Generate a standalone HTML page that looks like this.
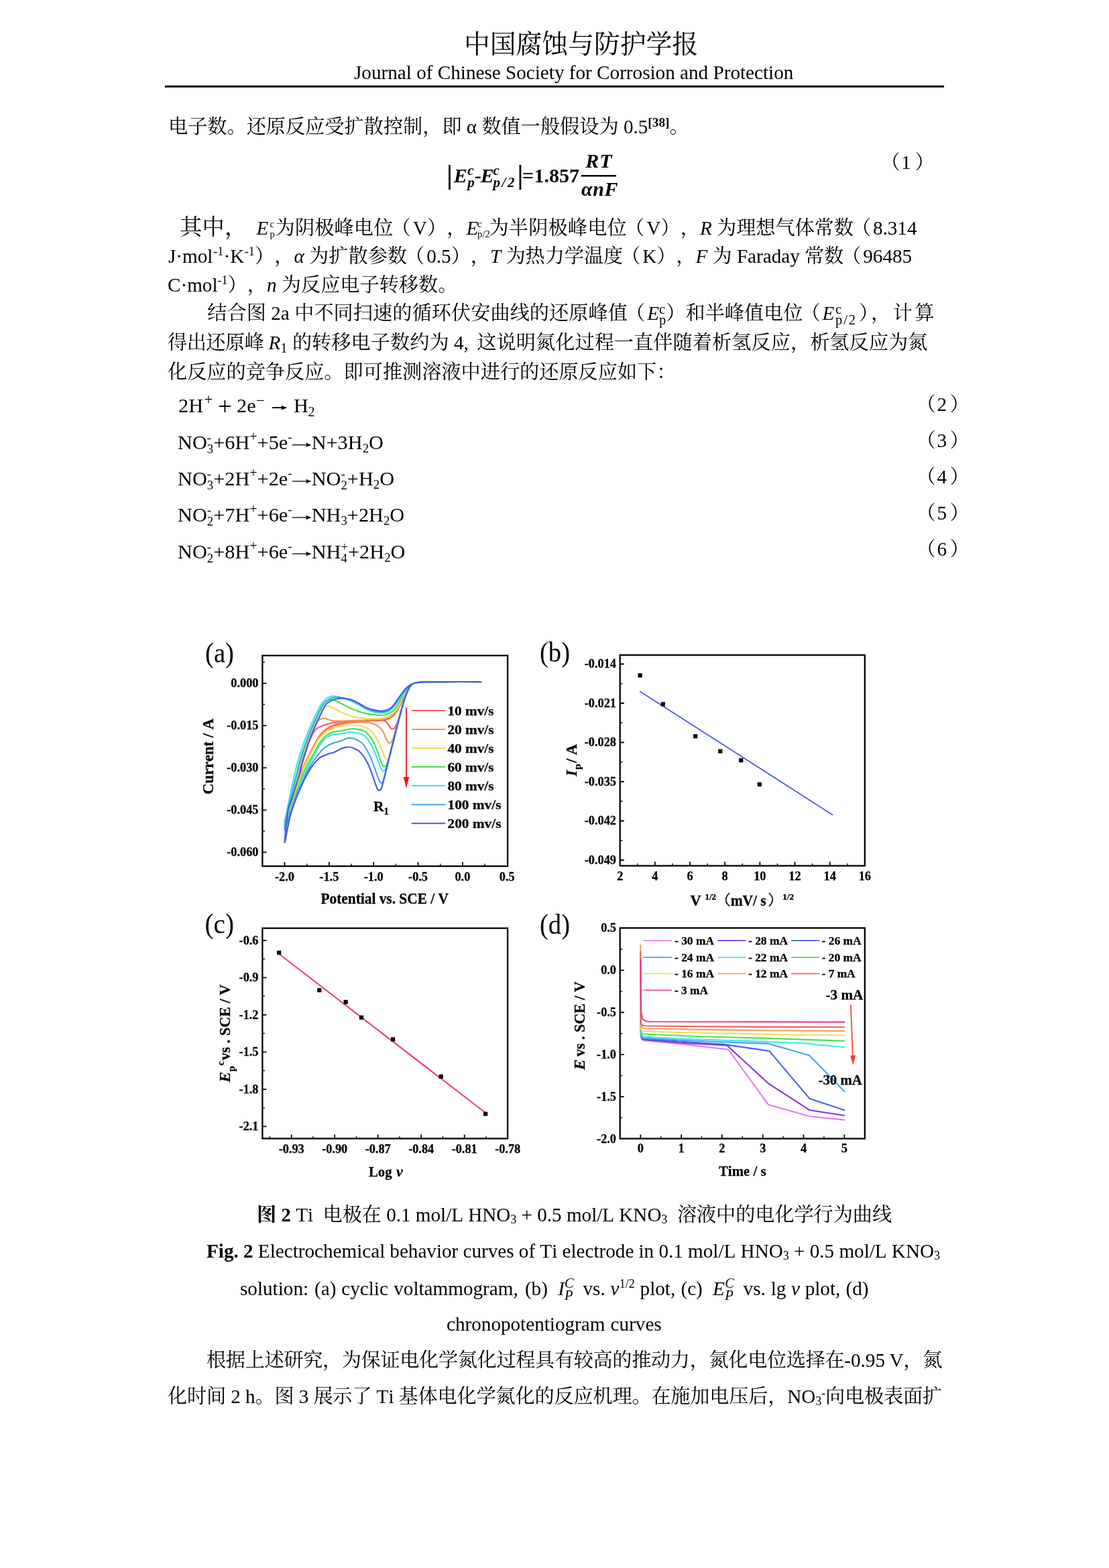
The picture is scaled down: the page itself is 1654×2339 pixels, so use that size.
<!DOCTYPE html>
<html><head><meta charset="utf-8"><title>page</title>
<style>
html,body{margin:0;padding:0;background:#fff}
svg{display:block;will-change:transform}
text{font-family:"Liberation Serif","Noto Serif CJK SC",serif;font-kerning:none;fill:#000;white-space:pre}
.fg text{stroke:#000;stroke-width:0.3px} .fg text.r{stroke:none}
.i{font-style:italic} .b{font-weight:bold} .bi{font-weight:bold;font-style:italic}
</style></head><body>
<svg width="1654" height="2339" viewBox="0 0 1654 2339">
<g fill="#000">
<text x="692" y="79" font-size="38.9" textLength="349.1">中国腐蚀与防护学报</text>
<text x="528" y="118" font-size="29.17">Journal</text>
<text x="621.16" y="118" font-size="29.17">of</text>
<text x="652.76" y="118" font-size="29.17">Chinese</text>
<text x="754.02" y="118" font-size="29.17">Society</text>
<text x="848.81" y="118" font-size="29.17">for</text>
<text x="890.12" y="118" font-size="29.17">Corrosion</text>
<text x="1014.09" y="118" font-size="29.17">and</text>
<text x="1063.5" y="118" font-size="29.17">Protection</text>
<rect x="246" y="127.5" width="1162" height="3" fill="#000"/>
<text x="251" y="199.3" font-size="29.17" textLength="437.55">电子数。还原反应受扩散控制，即</text>
<text x="695.84" y="199.3" font-size="29.17">α</text>
<text x="718.42" y="199.3" font-size="29.17" textLength="204.19">数值一般假设为</text>
<text x="929.9" y="199.3" font-size="29.17">0.5</text>
<text x="966.36" y="188.8" font-size="19.25" class="b">[38]</text>
<text x="998.44" y="199.3" font-size="29.17">。</text>
<text x="666" y="273.6" font-size="40.5" class="b">|</text>
<text x="676.8" y="271.6" font-size="30" class="bi">E</text>
<text x="697.26" y="260.6" font-size="21" class="bi">c</text>
<text x="697.26" y="278.6" font-size="21" class="bi">p</text>
<text x="708" y="271.6" font-size="30" class="bi">-</text>
<text x="716.8" y="271.6" font-size="30" class="bi">E</text>
<text x="735.5" y="260.6" font-size="21" class="bi">c</text>
<text x="735.5" y="278.6" font-size="21" class="bi" letter-spacing="2.6">p/2</text>
<text x="771.5" y="273.6" font-size="40.5" class="b">|</text>
<text x="779" y="271.6" font-size="30" class="b">=</text>
<text x="796.5" y="271.6" font-size="30" class="b">1.857</text>
<text x="893.5" y="249.6" font-size="30" class="bi" text-anchor="middle" letter-spacing="1">RT</text>
<rect x="866.6" y="261" width="52.4" height="2.5"/>
<text x="894.5" y="291.5" font-size="30" class="bi" text-anchor="middle" letter-spacing="0.5">αnF</text>
<text x="1313.58" y="252.3" font-size="29.17">（</text>
<text x="1344" y="252.3" font-size="29.17">1</text>
<text x="1364.5" y="252.3" font-size="29.17">）</text>
<text x="268" y="350" font-size="33.35" textLength="100.31">其中，</text>
<text x="382.5" y="350" font-size="29.17" class="i">E</text>
<text x="402.44" y="338.92" font-size="14.59">c</text>
<text x="402.44" y="353.5" font-size="14.59">p</text>
<text x="410.6" y="350" font-size="29.17" textLength="175.69">为阴极峰电位</text>
<text x="583.51" y="350" font-size="29.17">（</text>
<text x="615.73" y="350" font-size="29.17">V</text>
<text x="636.89" y="350" font-size="29.17" textLength="58.48">），</text>
<text x="695.5" y="350" font-size="29.17" class="i">E</text>
<text x="712.12" y="338.92" font-size="14.59">c</text>
<text x="712.12" y="353.5" font-size="14.59">p/2</text>
<text x="729.5" y="350" font-size="29.17" textLength="205.16">为半阴极峰电位</text>
<text x="931.91" y="350" font-size="29.17">（</text>
<text x="964.15" y="350" font-size="29.17">V</text>
<text x="985.34" y="350" font-size="29.17" textLength="58.5">），</text>
<text x="1044" y="350" font-size="29.17" class="i">R</text>
<text x="1069.06" y="350" font-size="29.17" textLength="203.81">为理想气体常数</text>
<text x="1269.89" y="350" font-size="29.17">（</text>
<text x="1301.91" y="350" font-size="29.17">8.314</text>
<text x="251" y="391.8" font-size="29.17">J·mol</text>
<text x="318.3" y="381.3" font-size="18.09">-1</text>
<text x="333.56" y="391.8" font-size="29.17">·K</text>
<text x="364.74" y="381.3" font-size="18.09">-1</text>
<text x="380" y="391.8" font-size="29.17" textLength="58.42">），</text>
<text x="438.5" y="391.8" font-size="29.17" class="i">α</text>
<text x="461.11" y="391.8" font-size="29.17" textLength="145.88">为扩散参数</text>
<text x="604.08" y="391.8" font-size="29.17">（</text>
<text x="636.17" y="391.8" font-size="29.17">0.5</text>
<text x="672.65" y="391.8" font-size="29.17" textLength="58.34">），</text>
<text x="731" y="391.8" font-size="29.17" class="i">T</text>
<text x="754.46" y="391.8" font-size="29.17" textLength="174.71">为热力学温度</text>
<text x="926.19" y="391.8" font-size="29.17">（</text>
<text x="958.21" y="391.8" font-size="29.17">K</text>
<text x="979.23" y="391.8" font-size="29.17" textLength="58.28">），</text>
<text x="1037.45" y="391.8" font-size="29.17" class="i">F</text>
<text x="1062.51" y="391.8" font-size="29.17">为</text>
<text x="1098.89" y="391.8" font-size="29.17">Faraday</text>
<text x="1199.91" y="391.8" font-size="29.17" textLength="58.28">常数</text>
<text x="1255.21" y="391.8" font-size="29.17">（</text>
<text x="1287.23" y="391.8" font-size="29.17">96485</text>
<text x="250" y="434.8" font-size="29.17">C·mol</text>
<text x="324.55" y="424.3" font-size="18.09">-1</text>
<text x="339.61" y="434.8" font-size="29.17" textLength="58.34">），</text>
<text x="397.95" y="434.8" font-size="29.17" class="i">n</text>
<text x="419.83" y="434.8" font-size="29.17" textLength="262.53">为反应电子转移数。</text>
<text x="309.3" y="477" font-size="29.17" textLength="87.62">结合图</text>
<text x="404.28" y="477" font-size="29.17">2a</text>
<text x="439.17" y="477" font-size="29.17" textLength="496.75">中不同扫速的循环伏安曲线的还原峰值</text>
<text x="933.06" y="477" font-size="29.17">（</text>
<text x="965.2" y="477" font-size="29.17" class="i">E</text>
<text x="983.05" y="468" font-size="20.42">c</text>
<text x="983.05" y="484" font-size="20.42">p</text>
<text x="993.28" y="477" font-size="29.17">）</text>
<text x="1022.5" y="477" font-size="29.17" textLength="174.88">和半峰值电位</text>
<text x="1194.44" y="477" font-size="29.17">（</text>
<text x="1226.5" y="477" font-size="29.17" class="i">E</text>
<text x="1245.96" y="468" font-size="20.42">c</text>
<text x="1245.96" y="484" font-size="20.42" letter-spacing="2">p/2</text>
<text x="1281" y="477" font-size="29.17" textLength="112.42">），计算</text>
<text x="250" y="521" font-size="29.17" textLength="143.84">得出还原峰</text>
<text x="400.5" y="521" font-size="29.17" class="i">R</text>
<text x="418.35" y="526" font-size="20.42">1</text>
<text x="435.89" y="521" font-size="29.17" textLength="233.77">的转移电子数约为</text>
<text x="677.02" y="521" font-size="29.17">4,</text>
<text x="711.26" y="521" font-size="29.17" textLength="672.18">这说明氮化过程一直伴随着析氢反应，析氢反应为氮</text>
<text x="250" y="565.3" font-size="29.17" textLength="758.42">化反应的竞争反应。即可推测溶液中进行的还原反应如下：</text>
<text x="266" y="614.5" font-size="30.3">2H</text>
<text x="304.5" y="602.5" font-size="22.73">+</text>
<text x="325" y="619" font-size="36.97">+</text>
<text x="353" y="614.5" font-size="30.3">2e</text>
<text x="382" y="604.5" font-size="22.73">−</text>
<path d="M406 608.14H427" stroke="#000" stroke-width="1.9" fill="none"/><path d="M428 608.14l-9 -3.72q2.7 3.72 0 7.44z"/>
<text x="438" y="614.5" font-size="30.3">H</text>
<text x="459.5" y="620.5" font-size="20">2</text>
<text x="265" y="670" font-size="30.3">NO</text>
<text x="308.76" y="659" font-size="18.79">-</text>
<text x="308.76" y="676" font-size="18.79">3</text>
<text x="318.16" y="670" font-size="30.3">+6H</text>
<text x="372.28" y="658" font-size="20">+</text>
<text x="383.55" y="670" font-size="30.3">+5e</text>
<text x="429.24" y="658" font-size="18.79">-</text>
<path d="M436 663.64H463.17" stroke="#000" stroke-width="1.3" fill="none"/><path d="M464.17 663.64l-8.25 -3.41q2.48 3.41 0 6.82z"/>
<text x="464.67" y="670" font-size="30.3">N+3H</text>
<text x="540.67" y="675" font-size="18.79">2</text>
<text x="550.06" y="670" font-size="30.3">O</text>
<text x="265" y="724.3" font-size="30.3">NO</text>
<text x="308.76" y="713.3" font-size="18.79">-</text>
<text x="308.76" y="730.3" font-size="18.79">3</text>
<text x="318.16" y="724.3" font-size="30.3">+2H</text>
<text x="372.28" y="712.3" font-size="20">+</text>
<text x="383.55" y="724.3" font-size="30.3">+2e</text>
<text x="429.24" y="712.3" font-size="18.79">-</text>
<path d="M436 717.94H463.17" stroke="#000" stroke-width="1.3" fill="none"/><path d="M464.17 717.94l-8.25 -3.41q2.48 3.41 0 6.82z"/>
<text x="464.67" y="724.3" font-size="30.3">NO</text>
<text x="508.43" y="713.3" font-size="18.79">-</text>
<text x="508.43" y="730.3" font-size="18.79">2</text>
<text x="517.82" y="724.3" font-size="30.3">+H</text>
<text x="556.79" y="729.3" font-size="18.79">2</text>
<text x="566.19" y="724.3" font-size="30.3">O</text>
<text x="265" y="778.3" font-size="30.3">NO</text>
<text x="308.76" y="767.3" font-size="18.79">-</text>
<text x="308.76" y="784.3" font-size="18.79">2</text>
<text x="318.16" y="778.3" font-size="30.3">+7H</text>
<text x="372.28" y="766.3" font-size="20">+</text>
<text x="383.55" y="778.3" font-size="30.3">+6e</text>
<text x="429.24" y="766.3" font-size="18.79">-</text>
<path d="M436 771.94H463.17" stroke="#000" stroke-width="1.3" fill="none"/><path d="M464.17 771.94l-8.25 -3.41q2.48 3.41 0 6.82z"/>
<text x="464.67" y="778.3" font-size="30.3">NH</text>
<text x="508.43" y="783.3" font-size="18.79">3</text>
<text x="517.82" y="778.3" font-size="30.3">+2H</text>
<text x="571.94" y="783.3" font-size="18.79">2</text>
<text x="581.34" y="778.3" font-size="30.3">O</text>
<text x="265" y="832.5" font-size="30.3">NO</text>
<text x="308.76" y="821.5" font-size="18.79">-</text>
<text x="308.76" y="838.5" font-size="18.79">2</text>
<text x="318.16" y="832.5" font-size="30.3">+8H</text>
<text x="372.28" y="820.5" font-size="20">+</text>
<text x="383.55" y="832.5" font-size="30.3">+6e</text>
<text x="429.24" y="820.5" font-size="18.79">-</text>
<path d="M436 826.14H463.17" stroke="#000" stroke-width="1.3" fill="none"/><path d="M464.17 826.14l-8.25 -3.41q2.48 3.41 0 6.82z"/>
<text x="464.67" y="832.5" font-size="30.3">NH</text>
<text x="508.43" y="821.5" font-size="18.79">+</text>
<text x="508.43" y="838.5" font-size="18.79">4</text>
<text x="519.02" y="832.5" font-size="30.3">+2H</text>
<text x="573.14" y="837.5" font-size="18.79">2</text>
<text x="582.54" y="832.5" font-size="30.3">O</text>
<text x="1366.58" y="613" font-size="29.17">（</text>
<text x="1397.5" y="613" font-size="29.17">2</text>
<text x="1416.5" y="613" font-size="29.17">）</text>
<text x="1366.58" y="667" font-size="29.17">（</text>
<text x="1397.5" y="667" font-size="29.17">3</text>
<text x="1416.5" y="667" font-size="29.17">）</text>
<text x="1366.58" y="721" font-size="29.17">（</text>
<text x="1397.5" y="721" font-size="29.17">4</text>
<text x="1416.5" y="721" font-size="29.17">）</text>
<text x="1366.58" y="775" font-size="29.17">（</text>
<text x="1397.5" y="775" font-size="29.17">5</text>
<text x="1416.5" y="775" font-size="29.17">）</text>
<text x="1366.58" y="829" font-size="29.17">（</text>
<text x="1397.5" y="829" font-size="29.17">6</text>
<text x="1416.5" y="829" font-size="29.17">）</text>
<text x="383" y="1822" font-size="29.17" class="b">图</text>
<text x="419.37" y="1822" font-size="29.17" class="b">2</text>
<text x="441.2" y="1822" font-size="29.17">Ti</text>
<text x="481.61" y="1822" font-size="29.17" textLength="87.36">电极在</text>
<text x="576.18" y="1822" font-size="29.17">0.1</text>
<text x="619.83" y="1822" font-size="29.17">mol/L</text>
<text x="698.23" y="1822" font-size="29.17">HNO</text>
<text x="761.27" y="1825" font-size="18.09">3</text>
<text x="777.57" y="1822" font-size="29.17">+</text>
<text x="801.25" y="1822" font-size="29.17">0.5</text>
<text x="844.9" y="1822" font-size="29.17">mol/L</text>
<text x="923.3" y="1822" font-size="29.17">KNO</text>
<text x="986.34" y="1825" font-size="18.09">3</text>
<text x="1009.91" y="1822" font-size="29.17" textLength="320.16">溶液中的电化学行为曲线</text>
<text x="308" y="1876" font-size="29.17" class="b">Fig.</text>
<text x="363.01" y="1876" font-size="29.17" class="b">2</text>
<text x="384.85" y="1876" font-size="29.17">Electrochemical</text>
<text x="581.33" y="1876" font-size="29.17">behavior</text>
<text x="690.51" y="1876" font-size="29.17">curves</text>
<text x="773.8" y="1876" font-size="29.17">of</text>
<text x="805.34" y="1876" font-size="29.17">Ti</text>
<text x="838.51" y="1876" font-size="29.17">electrode</text>
<text x="952.5" y="1876" font-size="29.17">in</text>
<text x="982.44" y="1876" font-size="29.17">0.1</text>
<text x="1026.12" y="1876" font-size="29.17">mol/L</text>
<text x="1104.6" y="1876" font-size="29.17">HNO</text>
<text x="1167.7" y="1879" font-size="18.09">3</text>
<text x="1184.01" y="1876" font-size="29.17">+</text>
<text x="1207.71" y="1876" font-size="29.17">0.5</text>
<text x="1251.4" y="1876" font-size="29.17">mol/L</text>
<text x="1329.87" y="1876" font-size="29.17">KNO</text>
<text x="1392.97" y="1879" font-size="18.09">3</text>
<text x="358" y="1931.5" font-size="29.17">solution:</text>
<text x="468.99" y="1931.5" font-size="29.17">(a)</text>
<text x="509.23" y="1931.5" font-size="29.17">cyclic</text>
<text x="587.28" y="1931.5" font-size="29.17">voltammogram,</text>
<text x="782.89" y="1931.5" font-size="29.17">(b)</text>
<text x="832.2" y="1931.5" font-size="29.17" class="i">I</text>
<text x="842.05" y="1920.5" font-size="20.42" class="i">C</text>
<text x="842.05" y="1938.5" font-size="20.42" class="i">P</text>
<text x="869.5" y="1931.5" font-size="29.17">vs.</text>
<text x="910.61" y="1931.5" font-size="29.17" class="i">v</text>
<text x="923.75" y="1920.5" font-size="18.09">1/2</text>
<text x="954.59" y="1931.5" font-size="29.17">plot,</text>
<text x="1015.43" y="1931.5" font-size="29.17">(c)</text>
<text x="1063.07" y="1931.5" font-size="29.17" class="i">E</text>
<text x="1081.15" y="1920.5" font-size="20.42" class="i">C</text>
<text x="1081.15" y="1938.5" font-size="20.42" class="i">P</text>
<text x="1108.6" y="1931.5" font-size="29.17">vs.</text>
<text x="1149.71" y="1931.5" font-size="29.17">lg</text>
<text x="1180.12" y="1931.5" font-size="29.17" class="i">v</text>
<text x="1200.66" y="1931.5" font-size="29.17">plot,</text>
<text x="1261.49" y="1931.5" font-size="29.17">(d)</text>
<text x="666" y="1984.5" font-size="29.17">chronopotentiogram</text>
<text x="910.62" y="1984.5" font-size="29.17">curves</text>
<text x="308" y="2039" font-size="29.17" textLength="951.62">根据上述研究，为保证电化学氮化过程具有较高的推动力，氮化电位选择在</text>
<text x="1259.28" y="2039" font-size="29.17">-0.95</text>
<text x="1326.53" y="2039" font-size="29.17">V</text>
<text x="1347.35" y="2039" font-size="29.17" textLength="57.99">，氮</text>
<text x="250" y="2093" font-size="29.17" textLength="87.14">化时间</text>
<text x="344.2" y="2093" font-size="29.17">2</text>
<text x="365.94" y="2093" font-size="29.17">h</text>
<text x="380.43" y="2093" font-size="29.17" textLength="58.15">。图</text>
<text x="445.64" y="2093" font-size="29.17">3</text>
<text x="467.38" y="2093" font-size="29.17" textLength="87.14">展示了</text>
<text x="561.58" y="2093" font-size="29.17">Ti</text>
<text x="594.58" y="2093" font-size="29.17" textLength="579.87">基体电化学氮化的反应机理。在施加电压后，</text>
<text x="1174.26" y="2093" font-size="29.17">NO</text>
<text x="1216.13" y="2096" font-size="18.09">3</text>
<text x="1225.11" y="2084" font-size="18.09">-</text>
<text x="1231.1" y="2093" font-size="29.17" textLength="174.09">向电极表面扩</text>
</g>
<g id="fig" class="fg"><g>
<path d="M717.37 1017.04C708.01 1017.04 675.5 1017 661.22 1017.04C646.93 1017.09 638.56 1017.09 631.66 1017.34C624.77 1017.59 622.67 1017.96 619.84 1018.52C617.01 1019.09 616.27 1019.51 614.67 1020.74C613.07 1021.97 611.84 1023.08 610.24 1025.91C608.64 1028.74 606.79 1032.93 605.06 1037.73C603.34 1042.54 601.62 1049.06 599.89 1054.73C598.17 1060.39 596.44 1066.8 594.72 1071.72C593 1076.65 591.27 1081.67 589.55 1084.28C587.82 1086.89 585.98 1087.76 584.38 1087.39C582.77 1087.02 581.42 1083.89 579.94 1082.07C578.46 1080.24 577.23 1077.68 575.51 1076.45C573.79 1075.22 572.55 1074.87 569.6 1074.68C566.64 1074.48 562.21 1075.07 557.78 1075.27C553.34 1075.47 547.92 1075.61 543 1075.86C538.07 1076.11 533.15 1076.35 528.22 1076.75C523.29 1077.14 517.88 1077.58 513.44 1078.22C509.01 1078.86 505.07 1079.65 501.62 1080.59C498.17 1081.52 495.71 1082.36 492.75 1083.84C489.8 1085.32 486.84 1086.79 483.89 1089.45C480.93 1092.11 477.98 1095.37 475.02 1099.8C472.07 1104.23 469.46 1109.65 466.15 1116.05C462.85 1122.46 458.52 1130.59 455.22 1138.22C451.92 1145.86 449.7 1152.01 446.35 1161.86C443 1171.72 438.74 1187.13 435.12 1197.33C431.5 1207.53 425.56 1220.83 424.63 1223.04C423.7 1225.26 427.76 1215.78 429.54 1210.63C431.32 1205.48 433.38 1198.19 435.29 1192.16C437.19 1186.12 439.06 1180.46 440.95 1174.43C442.84 1168.39 444.98 1161.99 446.65 1155.95C448.31 1149.92 449.36 1144.01 450.93 1138.22C452.51 1132.43 454.31 1126.84 456.11 1121.23C457.9 1115.61 459.92 1109.08 461.72 1104.53C463.52 1099.97 465.17 1096.77 466.89 1093.89C468.62 1091.01 469.73 1089.09 472.07 1087.24C474.41 1085.39 477.48 1084.16 480.93 1082.8C484.38 1081.45 488.57 1080.1 492.75 1079.11C496.94 1078.13 501.37 1077.48 506.05 1076.89C510.73 1076.3 515.91 1075.88 520.83 1075.56C525.76 1075.24 530.68 1075.02 535.61 1074.97C540.54 1074.92 545.46 1075.27 550.39 1075.27C555.31 1075.27 560.98 1075.27 565.16 1074.97C569.35 1074.68 572.31 1074.41 575.51 1073.49C578.71 1072.58 581.67 1071.65 584.38 1069.5C587.08 1067.36 589.42 1064.09 591.76 1060.64C594.1 1057.19 596.44 1052.63 598.41 1048.82C600.38 1045 601.74 1041.43 603.59 1037.73C605.43 1034.04 607.58 1029.48 609.5 1026.65C611.42 1023.82 613.39 1022.09 615.11 1020.74C616.84 1019.38 617.08 1019.09 619.84 1018.52C622.6 1017.96 624.77 1017.59 631.66 1017.34C638.56 1017.09 646.93 1017.09 661.22 1017.04C675.5 1017 708.01 1017.04 717.37 1017.04" fill="none" stroke="#f4605c" stroke-width="2.2" stroke-linejoin="round" stroke-linecap="round"/>
<path d="M717.37 1017.04C708.01 1017.04 675.5 1017 661.22 1017.04C646.93 1017.09 638.56 1017.09 631.66 1017.34C624.77 1017.59 622.67 1017.96 619.84 1018.52C617.01 1019.09 616.27 1019.51 614.67 1020.74C613.07 1021.97 611.84 1023.08 610.24 1025.91C608.64 1028.74 606.79 1032.93 605.06 1037.73C603.34 1042.54 601.62 1048.94 599.89 1054.73C598.17 1060.52 596.44 1066.43 594.72 1072.46C593 1078.49 591.15 1085.64 589.55 1090.93C587.95 1096.23 586.59 1101.33 585.11 1104.23C583.64 1107.14 582.16 1108.62 580.68 1108.37C579.2 1108.12 577.85 1105.66 576.25 1102.75C574.65 1099.85 573.17 1094.26 571.08 1090.93C568.98 1087.61 566.89 1084.9 563.69 1082.8C560.49 1080.71 555.81 1079.28 551.86 1078.37C547.92 1077.46 543.98 1077.41 540.04 1077.34C536.1 1077.26 532.65 1077.51 528.22 1077.93C523.79 1078.35 517.88 1079.11 513.44 1079.85C509.01 1080.59 505.07 1081.38 501.62 1082.36C498.17 1083.35 495.71 1084.28 492.75 1085.76C489.8 1087.24 486.84 1088.64 483.89 1091.23C480.93 1093.81 477.98 1096.89 475.02 1101.28C472.07 1105.66 469.46 1111.18 466.15 1117.53C462.85 1123.89 458.52 1131.89 455.22 1139.4C451.92 1146.91 449.7 1152.83 446.35 1162.6C443 1172.38 438.74 1187.6 435.12 1198.07C431.5 1208.54 425.62 1223.32 424.63 1225.41C423.64 1227.5 427.53 1216.17 429.18 1210.63C430.83 1205.09 432.75 1198.19 434.51 1192.16C436.28 1186.12 438.01 1180.46 439.79 1174.43C441.56 1168.39 443.56 1161.99 445.17 1155.95C446.78 1149.92 447.88 1144.01 449.46 1138.22C451.03 1132.43 452.83 1126.84 454.63 1121.23C456.43 1115.61 458.32 1109.77 460.24 1104.53C462.16 1099.28 464.38 1093.99 466.15 1089.75C467.93 1085.51 469.16 1081.82 470.88 1079.11C472.61 1076.4 474.33 1074.73 476.5 1073.49C478.67 1072.26 481.67 1071.72 483.89 1071.72C486.1 1071.72 487.34 1072.88 489.8 1073.49C492.26 1074.11 494.72 1075.07 498.67 1075.42C502.61 1075.76 508.52 1075.64 513.44 1075.56C518.37 1075.49 523.29 1075.17 528.22 1074.97C533.15 1074.78 538.07 1074.63 543 1074.38C547.92 1074.14 553.34 1073.82 557.78 1073.49C562.21 1073.17 565.9 1073.13 569.6 1072.46C573.29 1071.8 576.62 1071.23 579.94 1069.5C583.27 1067.78 586.72 1065.32 589.55 1062.12C592.38 1058.91 594.72 1054.41 596.94 1050.29C599.15 1046.18 600.8 1041.45 602.85 1037.44C604.89 1033.42 607.21 1028.99 609.2 1026.21C611.2 1023.42 613.04 1022.02 614.82 1020.74C616.59 1019.46 617.03 1019.09 619.84 1018.52C622.65 1017.96 624.77 1017.59 631.66 1017.34C638.56 1017.09 646.93 1017.09 661.22 1017.04C675.5 1017 708.01 1017.04 717.37 1017.04" fill="none" stroke="#f09858" stroke-width="2.2" stroke-linejoin="round" stroke-linecap="round"/>
<path d="M717.37 1017.04C708.01 1017.04 675.5 1017 661.22 1017.04C646.93 1017.09 638.56 1017.09 631.66 1017.34C624.77 1017.59 622.67 1017.96 619.84 1018.52C617.01 1019.09 616.27 1019.51 614.67 1020.74C613.07 1021.97 611.84 1023.08 610.24 1025.91C608.64 1028.74 606.79 1032.93 605.06 1037.73C603.34 1042.54 601.62 1048.82 599.89 1054.73C598.17 1060.64 596.81 1065.19 594.72 1073.2C592.63 1081.2 589.55 1093.89 587.33 1102.75C585.11 1111.62 583.14 1121.35 581.42 1126.4C579.7 1131.45 578.34 1132.8 576.99 1133.05C575.63 1133.29 574.77 1130.96 573.29 1127.88C571.81 1124.8 570.21 1119.26 568.12 1114.58C566.03 1109.9 563.69 1104.23 560.73 1099.8C557.78 1095.37 554.33 1090.81 550.39 1087.98C546.45 1085.14 541.52 1083.84 537.09 1082.8C532.65 1081.77 527.73 1081.77 523.79 1081.77C519.85 1081.77 517.14 1082.26 513.44 1082.8C509.75 1083.35 505.07 1084.11 501.62 1085.02C498.17 1085.93 495.71 1086.79 492.75 1088.27C489.8 1089.75 486.84 1091.35 483.89 1093.89C480.93 1096.42 477.98 1099.18 475.02 1103.49C472.07 1107.8 469.46 1113.47 466.15 1119.75C462.85 1126.03 458.52 1133.79 455.22 1141.18C451.92 1148.57 449.7 1154.43 446.35 1164.08C443 1173.74 438.74 1188.51 435.12 1199.1C431.5 1209.7 425.68 1225.7 424.63 1227.63C423.58 1229.55 427.3 1216.54 428.82 1210.63C430.34 1204.72 432.11 1198.19 433.74 1192.16C435.38 1186.12 436.96 1180.46 438.62 1174.43C440.28 1168.39 442.13 1161.99 443.69 1155.95C445.25 1149.92 446.4 1144.01 447.98 1138.22C449.55 1132.43 451.35 1126.84 453.15 1121.23C454.95 1115.61 456.84 1109.77 458.77 1104.53C460.69 1099.28 462.66 1094.55 464.68 1089.75C466.7 1084.95 468.86 1080.14 470.88 1075.71C472.9 1071.28 475.07 1066.23 476.79 1063.15C478.52 1060.07 479.68 1058.82 481.23 1057.24C482.78 1055.66 484.18 1054.19 486.1 1053.69C488.03 1053.2 490.17 1053.45 492.75 1054.28C495.34 1055.12 498.17 1057.04 501.62 1058.72C505.07 1060.39 509.01 1062.53 513.44 1064.33C517.88 1066.13 523.29 1068.27 528.22 1069.5C533.15 1070.74 538.07 1071.3 543 1071.72C547.92 1072.14 553.34 1072.07 557.78 1072.02C562.21 1071.97 565.9 1072.02 569.6 1071.43C573.29 1070.83 576.74 1070.15 579.94 1068.47C583.14 1066.8 586.1 1064.53 588.81 1061.38C591.52 1058.22 593.98 1053.62 596.2 1049.56C598.41 1045.49 600.02 1040.93 602.11 1036.99C604.2 1033.05 606.69 1028.62 608.76 1025.91C610.83 1023.2 612.67 1021.97 614.52 1020.74C616.37 1019.51 616.98 1019.09 619.84 1018.52C622.7 1017.96 624.77 1017.59 631.66 1017.34C638.56 1017.09 646.93 1017.09 661.22 1017.04C675.5 1017 708.01 1017.04 717.37 1017.04" fill="none" stroke="#f2dc5a" stroke-width="2.2" stroke-linejoin="round" stroke-linecap="round"/>
<path d="M717.37 1017.04C708.01 1017.04 675.5 1017 661.22 1017.04C646.93 1017.09 638.56 1017.09 631.66 1017.34C624.77 1017.59 622.67 1017.96 619.84 1018.52C617.01 1019.09 616.27 1019.51 614.67 1020.74C613.07 1021.97 611.84 1023.08 610.24 1025.91C608.64 1028.74 606.79 1032.93 605.06 1037.73C603.34 1042.54 601.62 1048.77 599.89 1054.73C598.17 1060.69 596.94 1065 594.72 1073.49C592.5 1081.99 589.06 1095.91 586.59 1105.71C584.13 1115.51 581.79 1126.28 579.94 1132.31C578.1 1138.34 576.74 1140.04 575.51 1141.92C574.28 1143.79 573.66 1144.16 572.55 1143.54C571.45 1142.92 570.34 1141.57 568.86 1138.22C567.38 1134.87 565.78 1128.86 563.69 1123.44C561.59 1118.02 559.25 1110.88 556.3 1105.71C553.34 1100.54 549.65 1095.37 545.95 1092.41C542.26 1089.45 537.83 1088.84 534.13 1087.98C530.44 1087.11 527.24 1086.99 523.79 1087.24C520.34 1087.48 516.64 1088.84 513.44 1089.45C510.24 1090.07 507.53 1090.44 504.58 1090.93C501.62 1091.43 498.67 1091.43 495.71 1092.41C492.75 1093.4 489.8 1094.5 486.84 1096.84C483.89 1099.18 480.93 1102.26 477.98 1106.45C475.02 1110.64 472.56 1115.93 469.11 1121.97C465.66 1128 460.86 1135.39 457.29 1142.65C453.72 1149.92 451.25 1155.95 447.68 1165.56C444.11 1175.16 439.7 1189.57 435.86 1200.29C432.02 1211 425.86 1228.12 424.63 1229.84C423.4 1231.57 427.07 1216.91 428.46 1210.63C429.85 1204.35 431.47 1198.19 432.97 1192.16C434.47 1186.12 435.91 1180.46 437.45 1174.43C438.99 1168.39 440.71 1161.99 442.22 1155.95C443.72 1149.92 444.92 1144.01 446.5 1138.22C448.08 1132.43 449.87 1126.84 451.67 1121.23C453.47 1115.61 455.37 1109.77 457.29 1104.53C459.21 1099.28 461.18 1094.55 463.2 1089.75C465.22 1084.95 467.39 1080.14 469.41 1075.71C471.43 1071.28 473.32 1067.17 475.32 1063.15C477.31 1059.14 479.45 1054.51 481.38 1051.62C483.3 1048.74 484.82 1047.19 486.84 1045.86C488.86 1044.53 491.03 1043.64 493.49 1043.64C495.96 1043.64 498.3 1044.51 501.62 1045.86C504.95 1047.22 509.01 1049.63 513.44 1051.77C517.88 1053.91 523.29 1056.75 528.22 1058.72C533.15 1060.69 538.07 1062.36 543 1063.59C547.92 1064.83 553.34 1065.54 557.78 1066.11C562.21 1066.67 566.15 1067.17 569.6 1066.99C573.05 1066.82 575.51 1066.38 578.46 1065.07C581.42 1063.77 584.62 1061.87 587.33 1059.16C590.04 1056.45 592.38 1052.63 594.72 1048.82C597.06 1045 599.15 1040.07 601.37 1036.26C603.59 1032.44 605.88 1028.5 608.02 1025.91C610.16 1023.32 612.26 1021.97 614.23 1020.74C616.2 1019.51 616.94 1019.09 619.84 1018.52C622.75 1017.96 624.77 1017.59 631.66 1017.34C638.56 1017.09 646.93 1017.09 661.22 1017.04C675.5 1017 708.01 1017.04 717.37 1017.04" fill="none" stroke="#4be24b" stroke-width="2.2" stroke-linejoin="round" stroke-linecap="round"/>
<path d="M717.37 1017.04C708.01 1017.04 675.5 1017 661.22 1017.04C646.93 1017.09 638.56 1017.09 631.66 1017.34C624.77 1017.59 622.67 1017.96 619.84 1018.52C617.01 1019.09 616.27 1019.51 614.67 1020.74C613.07 1021.97 611.84 1023.08 610.24 1025.91C608.64 1028.74 606.79 1032.93 605.06 1037.73C603.34 1042.54 601.62 1048.72 599.89 1054.73C598.17 1060.74 597.06 1064.8 594.72 1073.79C592.38 1082.78 588.56 1097.93 585.85 1108.67C583.14 1119.4 580.43 1131.57 578.46 1138.22C576.49 1144.87 575.21 1146.55 574.03 1148.57C572.85 1150.58 572.41 1150.83 571.37 1150.34C570.34 1149.85 569.35 1148.86 567.82 1145.61C566.3 1142.36 564.38 1136.25 562.21 1130.83C560.04 1125.41 557.78 1118.52 554.82 1113.1C551.86 1107.68 548.17 1101.57 544.48 1098.32C540.78 1095.07 536.59 1094.63 532.65 1093.59C528.71 1092.56 524.28 1092.07 520.83 1092.11C517.38 1092.16 515.17 1093.35 511.97 1093.89C508.76 1094.43 504.82 1094.87 501.62 1095.37C498.42 1095.86 495.71 1095.61 492.75 1096.84C489.8 1098.07 486.84 1099.8 483.89 1102.75C480.93 1105.71 477.98 1109.9 475.02 1114.58C472.07 1119.26 469.11 1125.17 466.15 1130.83C463.2 1136.5 460.37 1141.92 457.29 1148.57C454.21 1155.22 451.13 1161.62 447.68 1170.73C444.23 1179.84 440.44 1192.9 436.6 1203.24C432.76 1213.59 426.11 1231.57 424.63 1232.8C423.15 1234.03 426.6 1217.4 427.73 1210.63C428.87 1203.86 430.2 1198.19 431.43 1192.16C432.66 1186.12 433.82 1180.46 435.12 1174.43C436.43 1168.39 437.86 1161.99 439.26 1155.95C440.66 1149.92 441.97 1144.01 443.55 1138.22C445.12 1132.43 446.92 1126.84 448.72 1121.23C450.52 1115.61 452.41 1109.77 454.33 1104.53C456.25 1099.28 458.22 1094.55 460.24 1089.75C462.26 1084.95 464.43 1080.14 466.45 1075.71C468.47 1071.28 470.37 1067.17 472.36 1063.15C474.36 1059.14 476.62 1054.58 478.42 1051.62C480.22 1048.67 481.55 1047.17 483.15 1045.42C484.75 1043.67 486.42 1042.17 488.03 1041.13C489.63 1040.1 491.23 1039.65 492.75 1039.21C494.28 1038.77 494.72 1038.35 497.19 1038.47C499.65 1038.6 503.35 1038.84 507.53 1039.95C511.72 1041.06 517.63 1043.15 522.31 1045.12C526.99 1047.09 531.67 1049.68 535.61 1051.77C539.55 1053.87 542.26 1055.96 545.95 1057.68C549.65 1059.41 554.33 1061.13 557.78 1062.12C561.22 1063.1 563.69 1063.47 566.64 1063.59C569.6 1063.72 572.55 1063.84 575.51 1062.86C578.46 1061.87 581.54 1060.27 584.38 1057.68C587.21 1055.1 589.92 1050.96 592.5 1047.34C595.09 1043.72 597.5 1039.48 599.89 1035.96C602.28 1032.44 604.5 1028.74 606.84 1026.21C609.18 1023.67 611.76 1022.02 613.93 1020.74C616.1 1019.46 616.89 1019.09 619.84 1018.52C622.8 1017.96 624.77 1017.59 631.66 1017.34C638.56 1017.09 646.93 1017.09 661.22 1017.04C675.5 1017 708.01 1017.04 717.37 1017.04" fill="none" stroke="#3ee6ea" stroke-width="2.2" stroke-linejoin="round" stroke-linecap="round"/>
<path d="M717.37 1017.04C708.01 1017.04 675.5 1017 661.22 1017.04C646.93 1017.09 638.56 1017.09 631.66 1017.34C624.77 1017.59 622.67 1017.96 619.84 1018.52C617.01 1019.09 616.27 1019.51 614.67 1020.74C613.07 1021.97 611.84 1023.08 610.24 1025.91C608.64 1028.74 606.79 1032.93 605.06 1037.73C603.34 1042.54 601.62 1048.67 599.89 1054.73C598.17 1060.79 597.18 1064.6 594.72 1074.09C592.26 1083.57 588.07 1099.7 585.11 1111.62C582.16 1123.54 579.2 1136.87 576.99 1145.61C574.77 1154.35 573.17 1160.34 571.81 1164.08C570.46 1167.83 569.97 1168.19 568.86 1168.07C567.75 1167.95 566.77 1166.84 565.16 1163.34C563.56 1159.85 561.47 1153 559.25 1147.09C557.04 1141.18 554.82 1134.03 551.86 1127.88C548.91 1121.72 545.22 1114.38 541.52 1110.14C537.83 1105.91 533.39 1103.99 529.7 1102.46C526 1100.93 522.8 1100.56 519.35 1100.98C515.91 1101.4 512.46 1103.81 509.01 1104.97C505.56 1106.13 501.87 1106.82 498.67 1107.93C495.46 1109.04 492.75 1109.9 489.8 1111.62C486.84 1113.35 483.89 1115.36 480.93 1118.27C477.98 1121.18 474.87 1125.36 472.07 1129.06C469.26 1132.75 467.24 1135.09 464.09 1140.44C460.93 1145.78 456.77 1153.49 453.15 1161.13C449.53 1168.76 445.81 1177.38 442.36 1186.25C438.91 1195.11 435.42 1205.58 432.46 1214.33C429.51 1223.07 425.29 1239.32 424.63 1238.71C423.97 1238.09 427.11 1218.39 428.53 1210.63C429.94 1202.87 431.6 1198.19 433.13 1192.16C434.65 1186.12 436.12 1180.46 437.69 1174.43C439.25 1168.39 440.99 1161.99 442.51 1155.95C444.03 1149.92 445.22 1144.01 446.8 1138.22C448.37 1132.43 450.17 1126.84 451.97 1121.23C453.77 1115.61 455.66 1109.77 457.58 1104.53C459.5 1099.28 461.48 1094.55 463.49 1089.75C465.51 1084.95 467.68 1080.14 469.7 1075.71C471.72 1071.28 473.62 1067.17 475.61 1063.15C477.61 1059.14 479.31 1054.88 481.67 1051.62C484.04 1048.37 486.97 1045.52 489.8 1043.64C492.63 1041.77 495.22 1040.84 498.67 1040.39C502.11 1039.95 506.55 1040.44 510.49 1040.98C514.43 1041.53 518.12 1042.09 522.31 1043.64C526.5 1045.2 531.67 1048.2 535.61 1050.29C539.55 1052.39 542.26 1054.48 545.95 1056.21C549.65 1057.93 554.33 1059.65 557.78 1060.64C561.22 1061.62 563.69 1061.99 566.64 1062.12C569.6 1062.24 572.55 1062.36 575.51 1061.38C578.46 1060.39 581.67 1058.67 584.38 1056.21C587.08 1053.74 589.3 1050.05 591.76 1046.6C594.23 1043.15 596.69 1038.92 599.15 1035.52C601.62 1032.12 604.08 1028.67 606.54 1026.21C609 1023.74 611.71 1022.02 613.93 1020.74C616.15 1019.46 616.89 1019.09 619.84 1018.52C622.8 1017.96 624.77 1017.59 631.66 1017.34C638.56 1017.09 646.93 1017.09 661.22 1017.04C675.5 1017 708.01 1017.04 717.37 1017.04" fill="none" stroke="#46a6ea" stroke-width="2.2" stroke-linejoin="round" stroke-linecap="round"/>
<path d="M717.37 1017.04C708.01 1017.04 675.5 1017 661.22 1017.04C646.93 1017.09 638.56 1017.09 631.66 1017.34C624.77 1017.59 622.67 1017.96 619.84 1018.52C617.01 1019.09 616.27 1019.51 614.67 1020.74C613.07 1021.97 611.84 1023.08 610.24 1025.91C608.64 1028.74 606.79 1032.93 605.06 1037.73C603.34 1042.54 601.62 1048.62 599.89 1054.73C598.17 1060.84 597.31 1064.41 594.72 1074.38C592.13 1084.36 587.58 1101.97 584.38 1114.58C581.17 1127.19 577.97 1140.19 575.51 1150.04C573.05 1159.89 571.2 1168.81 569.6 1173.69C568 1178.56 567.14 1179.06 565.9 1179.3C564.67 1179.55 563.81 1178.56 562.21 1175.16C560.61 1171.77 558.51 1164.82 556.3 1158.91C554.08 1153 551.86 1145.61 548.91 1139.7C545.95 1133.79 542.26 1127.43 538.57 1123.44C534.87 1119.45 530.19 1117.29 526.74 1115.76C523.29 1114.23 520.83 1114.11 517.88 1114.28C514.92 1114.45 512.21 1115.51 509.01 1116.79C505.81 1118.07 501.87 1120.66 498.67 1121.97C495.46 1123.27 492.75 1123.59 489.8 1124.63C486.84 1125.66 483.42 1126.94 480.93 1128.17C478.44 1129.4 477.68 1129.23 474.87 1132.01C472.07 1134.8 467.71 1139.45 464.09 1144.87C460.47 1150.29 456.77 1157.14 453.15 1164.52C449.53 1171.91 445.81 1180.16 442.36 1189.2C438.91 1198.24 435.42 1207.5 432.46 1218.76C429.51 1230.01 425.13 1258.09 424.63 1256.74C424.13 1255.38 427.72 1221.39 429.47 1210.63C431.22 1199.87 433.26 1198.19 435.13 1192.16C437.01 1186.12 438.85 1180.46 440.72 1174.43C442.59 1168.39 444.7 1161.99 446.35 1155.95C448.01 1149.92 449.06 1144.01 450.64 1138.22C452.21 1132.43 454.01 1126.84 455.81 1121.23C457.61 1115.61 459.5 1109.77 461.43 1104.53C463.35 1099.28 465.32 1094.55 467.34 1089.75C469.36 1084.95 471.52 1080.14 473.54 1075.71C475.56 1071.28 477.46 1067.17 479.45 1063.15C481.45 1059.14 483.54 1054.38 485.51 1051.62C487.48 1048.87 488.59 1048.13 491.28 1046.6C493.96 1045.07 497.93 1043.25 501.62 1042.46C505.32 1041.67 509.5 1041.55 513.44 1041.87C517.38 1042.19 521.57 1043.1 525.27 1044.38C528.96 1045.66 532.16 1047.71 535.61 1049.56C539.06 1051.4 542.26 1053.87 545.95 1055.47C549.65 1057.07 554.33 1058.3 557.78 1059.16C561.22 1060.02 563.69 1060.52 566.64 1060.64C569.6 1060.76 572.55 1060.88 575.51 1059.9C578.46 1058.91 581.67 1057.19 584.38 1054.73C587.08 1052.26 589.3 1048.45 591.76 1045.12C594.23 1041.8 596.69 1037.98 599.15 1034.78C601.62 1031.58 604.08 1028.25 606.54 1025.91C609 1023.57 611.71 1021.97 613.93 1020.74C616.15 1019.51 616.89 1019.09 619.84 1018.52C622.8 1017.96 624.77 1017.59 631.66 1017.34C638.56 1017.09 646.93 1017.09 661.22 1017.04C675.5 1017 708.01 1017.04 717.37 1017.04" fill="none" stroke="#4a5ce6" stroke-width="2.2" stroke-linejoin="round" stroke-linecap="round"/>
</g>
<rect x="391.4" y="977.9" width="365.7" height="314.2" fill="none" stroke="#000" stroke-width="2.3"/>
<path d="M424.5 1292.1v-6M490.85 1292.1v-6M557.2 1292.1v-6M623.55 1292.1v-6M689.9 1292.1v-6" stroke="#000" stroke-width="1.8" fill="none"/>
<path d="M457.68 1292.1v-3.5M524.02 1292.1v-3.5M590.38 1292.1v-3.5M656.73 1292.1v-3.5M723.07 1292.1v-3.5" stroke="#000" stroke-width="1.4" fill="none"/>
<path d="M391.4 1019.3h6M391.4 1082.3h6M391.4 1145.3h6M391.4 1208.3h6M391.4 1271.3h6" stroke="#000" stroke-width="1.8" fill="none"/>
<path d="M391.4 987.8h3.5M391.4 1050.8h3.5M391.4 1113.8h3.5M391.4 1176.8h3.5M391.4 1239.8h3.5" stroke="#000" stroke-width="1.4" fill="none"/>
<text x="424.5" y="1313.8" font-size="18.3" class="b" text-anchor="middle">-2.0</text>
<text x="490.85" y="1313.8" font-size="18.3" class="b" text-anchor="middle">-1.5</text>
<text x="557.2" y="1313.8" font-size="18.3" class="b" text-anchor="middle">-1.0</text>
<text x="623.55" y="1313.8" font-size="18.3" class="b" text-anchor="middle">-0.5</text>
<text x="689.9" y="1313.8" font-size="18.3" class="b" text-anchor="middle">0.0</text>
<text x="756.25" y="1313.8" font-size="18.3" class="b" text-anchor="middle">0.5</text>
<text x="385.5" y="1025.1" font-size="18.3" class="b" text-anchor="end">0.000</text>
<text x="385.5" y="1088.1" font-size="18.3" class="b" text-anchor="end">-0.015</text>
<text x="385.5" y="1151.1" font-size="18.3" class="b" text-anchor="end">-0.030</text>
<text x="385.5" y="1214.1" font-size="18.3" class="b" text-anchor="end">-0.045</text>
<text x="385.5" y="1277.1" font-size="18.3" class="b" text-anchor="end">-0.060</text>
<text x="306" y="987.7" font-size="42" class="r" textLength="43" lengthAdjust="spacingAndGlyphs">(a)</text>
<text x="318" y="1128.5" font-size="22.5" class="b" text-anchor="middle" textLength="113" lengthAdjust="spacingAndGlyphs" transform="rotate(-90 318 1128.5)">Current / A</text>
<text x="573.7" y="1347.6" font-size="22.3" class="b" text-anchor="middle" textLength="190.5" lengthAdjust="spacingAndGlyphs">Potential vs. SCE / V</text>
<path d="M614.5 1060H663.5" fill="none" stroke="#f4605c" stroke-width="2.0" stroke-linejoin="round" stroke-linecap="round"/>
<text x="667.5" y="1066.5" font-size="19.5" class="b" textLength="69" lengthAdjust="spacingAndGlyphs">10 mv/s</text>
<path d="M614.5 1088.03H663.5" fill="none" stroke="#f09858" stroke-width="2.0" stroke-linejoin="round" stroke-linecap="round"/>
<text x="667.5" y="1094.53" font-size="19.5" class="b" textLength="69" lengthAdjust="spacingAndGlyphs">20 mv/s</text>
<path d="M614.5 1116.06H663.5" fill="none" stroke="#f2dc5a" stroke-width="2.0" stroke-linejoin="round" stroke-linecap="round"/>
<text x="667.5" y="1122.56" font-size="19.5" class="b" textLength="69" lengthAdjust="spacingAndGlyphs">40 mv/s</text>
<path d="M614.5 1144.09H663.5" fill="none" stroke="#4be24b" stroke-width="2.0" stroke-linejoin="round" stroke-linecap="round"/>
<text x="667.5" y="1150.59" font-size="19.5" class="b" textLength="69" lengthAdjust="spacingAndGlyphs">60 mv/s</text>
<path d="M614.5 1172.12H663.5" fill="none" stroke="#3ee6ea" stroke-width="2.0" stroke-linejoin="round" stroke-linecap="round"/>
<text x="667.5" y="1178.62" font-size="19.5" class="b" textLength="69" lengthAdjust="spacingAndGlyphs">80 mv/s</text>
<path d="M614.5 1200.15H663.5" fill="none" stroke="#46a6ea" stroke-width="2.0" stroke-linejoin="round" stroke-linecap="round"/>
<text x="667.5" y="1206.65" font-size="19.5" class="b" textLength="80" lengthAdjust="spacingAndGlyphs">100 mv/s</text>
<path d="M614.5 1228.18H663.5" fill="none" stroke="#4a5ce6" stroke-width="2.0" stroke-linejoin="round" stroke-linecap="round"/>
<text x="667.5" y="1234.68" font-size="19.5" class="b" textLength="80" lengthAdjust="spacingAndGlyphs">200 mv/s</text>
<path d="M606 1055.5V1162" stroke="#e8161c" stroke-width="1.8" fill="none"/><path d="M606 1176l-4.3 -17h8.6z" fill="#e8161c"/>
<text x="557" y="1210" font-size="21.5" class="b">R</text>
<text x="572.5" y="1215" font-size="14.5" class="b">1</text>
<path d="M954.6 1031.5L1241.6 1215.4" fill="none" stroke="#4a5ee8" stroke-width="1.8" stroke-linejoin="round" stroke-linecap="round"/>
<rect x="951.5" y="1004.4" width="6.2" height="6.2" fill="#000"/>
<rect x="985.7" y="1047.3" width="6.2" height="6.2" fill="#000"/>
<rect x="1034" y="1095.2" width="6.2" height="6.2" fill="#000"/>
<rect x="1071.2" y="1117.5" width="6.2" height="6.2" fill="#000"/>
<rect x="1102.1" y="1131.1" width="6.2" height="6.2" fill="#000"/>
<rect x="1129.7" y="1167" width="6.2" height="6.2" fill="#000"/>
<rect x="924.7" y="977.2" width="365.1" height="314.3" fill="none" stroke="#000" stroke-width="2.3"/>
<path d="M976.86 1291.5v-6M1029.02 1291.5v-6M1081.18 1291.5v-6M1133.34 1291.5v-6M1185.5 1291.5v-6M1237.66 1291.5v-6" stroke="#000" stroke-width="1.8" fill="none"/>
<path d="M950.78 1291.5v-3.5M1002.94 1291.5v-3.5M1055.1 1291.5v-3.5M1107.26 1291.5v-3.5M1159.42 1291.5v-3.5M1211.58 1291.5v-3.5M1263.74 1291.5v-3.5" stroke="#000" stroke-width="1.4" fill="none"/>
<path d="M924.7 990.5h6M924.7 1049h6M924.7 1107.5h6M924.7 1166h6M924.7 1224.5h6M924.7 1283h6" stroke="#000" stroke-width="1.8" fill="none"/>
<path d="M924.7 1019.75h3.5M924.7 1078.25h3.5M924.7 1136.75h3.5M924.7 1195.25h3.5M924.7 1253.75h3.5" stroke="#000" stroke-width="1.4" fill="none"/>
<text x="924.7" y="1312.7" font-size="18.3" class="b" text-anchor="middle">2</text>
<text x="976.86" y="1312.7" font-size="18.3" class="b" text-anchor="middle">4</text>
<text x="1029.02" y="1312.7" font-size="18.3" class="b" text-anchor="middle">6</text>
<text x="1081.18" y="1312.7" font-size="18.3" class="b" text-anchor="middle">8</text>
<text x="1133.34" y="1312.7" font-size="18.3" class="b" text-anchor="middle">10</text>
<text x="1185.5" y="1312.7" font-size="18.3" class="b" text-anchor="middle">12</text>
<text x="1237.66" y="1312.7" font-size="18.3" class="b" text-anchor="middle">14</text>
<text x="1289.82" y="1312.7" font-size="18.3" class="b" text-anchor="middle">16</text>
<text x="919" y="996.3" font-size="18.3" class="b" text-anchor="end">-0.014</text>
<text x="919" y="1054.8" font-size="18.3" class="b" text-anchor="end">-0.021</text>
<text x="919" y="1113.3" font-size="18.3" class="b" text-anchor="end">-0.028</text>
<text x="919" y="1171.8" font-size="18.3" class="b" text-anchor="end">-0.035</text>
<text x="919" y="1230.3" font-size="18.3" class="b" text-anchor="end">-0.042</text>
<text x="919" y="1288.8" font-size="18.3" class="b" text-anchor="end">-0.049</text>
<text x="805" y="986.6" font-size="42" class="r" textLength="45" lengthAdjust="spacingAndGlyphs">(b)</text>
<g transform="rotate(-90 860 1136)">
<text x="838" y="1136" font-size="23.5" class="bi">I</text>
<text x="848" y="1142" font-size="15" class="b">p</text>
<text x="858" y="1136" font-size="23.5" class="b" textLength="28" lengthAdjust="spacingAndGlyphs">/ A</text>
</g>
<text x="1029.5" y="1351.3" font-size="22.3" class="b">V</text>
<text x="1051.5" y="1341.7" font-size="13" class="b">1/2</text>
<text x="1089.7" y="1351.3" font-size="22.3" class="b" textLength="53" lengthAdjust="spacingAndGlyphs">mV/ s</text>
<text x="1167.3" y="1341.7" font-size="13" class="b">1/2</text>
<path d="M1088 1332q-10.5 10 0 20" stroke="#000" stroke-width="1.7" fill="none"/><path d="M1147 1332q10.5 10 0 20" stroke="#000" stroke-width="1.7" fill="none"/>
<path d="M416.1 1423L724.1 1660" fill="none" stroke="#f23c92" stroke-width="2.2" stroke-linejoin="round" stroke-linecap="round"/>
<rect x="413" y="1418" width="6.2" height="6.2" fill="#000"/>
<rect x="473.2" y="1474" width="6.2" height="6.2" fill="#000"/>
<rect x="512.6" y="1491.6" width="6.2" height="6.2" fill="#000"/>
<rect x="535.9" y="1514.7" width="6.2" height="6.2" fill="#000"/>
<rect x="583" y="1547.3" width="6.2" height="6.2" fill="#000"/>
<rect x="654.7" y="1602.7" width="6.2" height="6.2" fill="#000"/>
<rect x="721" y="1658.5" width="6.2" height="6.2" fill="#000"/>
<rect x="391.4" y="1384.6" width="365.7" height="313.8" fill="none" stroke="#000" stroke-width="2.3"/>
<path d="M434.7 1698.4v-6M499.2 1698.4v-6M563.7 1698.4v-6M628.2 1698.4v-6M692.7 1698.4v-6" stroke="#000" stroke-width="1.8" fill="none"/>
<path d="M402.45 1698.4v-3.5M466.95 1698.4v-3.5M531.45 1698.4v-3.5M595.95 1698.4v-3.5M660.45 1698.4v-3.5M724.95 1698.4v-3.5" stroke="#000" stroke-width="1.4" fill="none"/>
<path d="M391.4 1402.8h6M391.4 1458.3h6M391.4 1513.8h6M391.4 1569.3h6M391.4 1624.8h6M391.4 1680.3h6" stroke="#000" stroke-width="1.8" fill="none"/>
<path d="M391.4 1430.55h3.5M391.4 1486.05h3.5M391.4 1541.55h3.5M391.4 1597.05h3.5M391.4 1652.55h3.5" stroke="#000" stroke-width="1.4" fill="none"/>
<text x="434.7" y="1719.8" font-size="18.3" class="b" text-anchor="middle">-0.93</text>
<text x="499.2" y="1719.8" font-size="18.3" class="b" text-anchor="middle">-0.90</text>
<text x="563.7" y="1719.8" font-size="18.3" class="b" text-anchor="middle">-0.87</text>
<text x="628.2" y="1719.8" font-size="18.3" class="b" text-anchor="middle">-0.84</text>
<text x="692.7" y="1719.8" font-size="18.3" class="b" text-anchor="middle">-0.81</text>
<text x="757.2" y="1719.8" font-size="18.3" class="b" text-anchor="middle">-0.78</text>
<text x="385.5" y="1408.6" font-size="18.3" class="b" text-anchor="end">-0.6</text>
<text x="385.5" y="1464.1" font-size="18.3" class="b" text-anchor="end">-0.9</text>
<text x="385.5" y="1519.6" font-size="18.3" class="b" text-anchor="end">-1.2</text>
<text x="385.5" y="1575.1" font-size="18.3" class="b" text-anchor="end">-1.5</text>
<text x="385.5" y="1630.6" font-size="18.3" class="b" text-anchor="end">-1.8</text>
<text x="385.5" y="1686.1" font-size="18.3" class="b" text-anchor="end">-2.1</text>
<text x="305.5" y="1391.6" font-size="42" class="r" textLength="43.5" lengthAdjust="spacingAndGlyphs">(c)</text>
<g transform="rotate(-90 343 1544.5)">
<text x="273" y="1544.5" font-size="23.5" class="bi">E</text>
<text x="289" y="1551" font-size="15" class="b">p</text>
<text x="298" y="1535" font-size="15" class="b">c</text>
<text x="306" y="1544.5" font-size="23.5" class="b" textLength="113" lengthAdjust="spacingAndGlyphs">vs . SCE / V</text>
</g>
<text x="550" y="1755" font-size="22" class="b" textLength="34.5" lengthAdjust="spacingAndGlyphs">Log</text>
<text x="591" y="1755" font-size="22" class="bi">v</text>
<path d="M955.26 1449.77L955.92 1546.21L957.59 1550.86L961.24 1552.19L1012.79 1556.85L1085.95 1565.5L1145.81 1647.64L1207.34 1665.26L1259.22 1670.59" fill="none" stroke="#e878f0" stroke-width="2.1" stroke-linejoin="round" stroke-linecap="round"/>
<path d="M955.26 1446.44L955.92 1544.55L957.59 1549.53L961.24 1550.86L1012.79 1555.52L1084.29 1559.51L1145.81 1616.05L1207.34 1655.95L1259.22 1663.93" fill="none" stroke="#8434e0" stroke-width="2.1" stroke-linejoin="round" stroke-linecap="round"/>
<path d="M955.26 1443.12L955.92 1543.55L957.59 1548.54L961.24 1549.87L1012.79 1553.53L1079.3 1557.85L1147.48 1567.83L1207.34 1638.66L1259.22 1655.95" fill="none" stroke="#4464e8" stroke-width="2.1" stroke-linejoin="round" stroke-linecap="round"/>
<path d="M955.26 1439.79L955.92 1542.22L957.59 1547.21L961.24 1548.54L1012.79 1551.53L1079.3 1554.52L1145.81 1556.85L1207.34 1574.48L1259.22 1628.02" fill="none" stroke="#44a4f0" stroke-width="2.1" stroke-linejoin="round" stroke-linecap="round"/>
<path d="M955.26 1436.46L955.92 1540.22L957.59 1545.21L961.24 1546.54L1012.79 1549.53L1112.56 1552.86L1199.02 1556.19L1259.22 1562.17" fill="none" stroke="#3ee4f2" stroke-width="2.1" stroke-linejoin="round" stroke-linecap="round"/>
<path d="M955.26 1433.14L955.92 1537.23L957.59 1541.55L961.24 1542.55L1046.05 1546.21L1145.81 1548.87L1259.22 1552.86" fill="none" stroke="#4ee24e" stroke-width="2.1" stroke-linejoin="round" stroke-linecap="round"/>
<path d="M955.26 1426.49L955.92 1533.57L957.59 1537.56L961.24 1538.56L1046.05 1540.89L1145.81 1542.88L1259.22 1544.55" fill="none" stroke="#f2de5e" stroke-width="2.1" stroke-linejoin="round" stroke-linecap="round"/>
<path d="M955.26 1409.86L955.92 1529.58L957.59 1533.24L961.24 1534.24L1046.05 1535.9L1145.81 1537.23L1259.22 1537.89" fill="none" stroke="#f2a05e" stroke-width="2.1" stroke-linejoin="round" stroke-linecap="round"/>
<path d="M955.26 1419.84L955.92 1525.59L957.59 1529.25L961.24 1530.25L1046.05 1531.24L1145.81 1531.91L1259.22 1532.24" fill="none" stroke="#f2605e" stroke-width="2.1" stroke-linejoin="round" stroke-linecap="round"/>
<path d="M955.26 1433.14L956.26 1509.63L958.25 1519.6L962.24 1522.93L967.89 1523.93L1079.3 1524.26L1259.22 1524.59" fill="none" stroke="#f23c92" stroke-width="2.1" stroke-linejoin="round" stroke-linecap="round"/>
<rect x="924.7" y="1384.3" width="365.1" height="314.2" fill="none" stroke="#000" stroke-width="2.3"/>
<path d="M955.3 1698.5v-6M1016.1 1698.5v-6M1076.9 1698.5v-6M1137.7 1698.5v-6M1198.5 1698.5v-6M1259.3 1698.5v-6" stroke="#000" stroke-width="1.8" fill="none"/>
<path d="M985.7 1698.5v-3.5M1046.5 1698.5v-3.5M1107.3 1698.5v-3.5M1168.1 1698.5v-3.5M1228.9 1698.5v-3.5" stroke="#000" stroke-width="1.4" fill="none"/>
<path d="M924.7 1447.4h6M924.7 1510.25h6M924.7 1573.1h6M924.7 1635.95h6" stroke="#000" stroke-width="1.8" fill="none"/>
<path d="M924.7 1415.98h3.5M924.7 1478.83h3.5M924.7 1541.68h3.5M924.7 1604.53h3.5M924.7 1667.38h3.5" stroke="#000" stroke-width="1.4" fill="none"/>
<text x="955.3" y="1719" font-size="18.3" class="b" text-anchor="middle">0</text>
<text x="1016.1" y="1719" font-size="18.3" class="b" text-anchor="middle">1</text>
<text x="1076.9" y="1719" font-size="18.3" class="b" text-anchor="middle">2</text>
<text x="1137.7" y="1719" font-size="18.3" class="b" text-anchor="middle">3</text>
<text x="1198.5" y="1719" font-size="18.3" class="b" text-anchor="middle">4</text>
<text x="1259.3" y="1719" font-size="18.3" class="b" text-anchor="middle">5</text>
<text x="919" y="1390.35" font-size="18.3" class="b" text-anchor="end">0.5</text>
<text x="919" y="1453.2" font-size="18.3" class="b" text-anchor="end">0.0</text>
<text x="919" y="1516.05" font-size="18.3" class="b" text-anchor="end">-0.5</text>
<text x="919" y="1578.9" font-size="18.3" class="b" text-anchor="end">-1.0</text>
<text x="919" y="1641.75" font-size="18.3" class="b" text-anchor="end">-1.5</text>
<text x="919" y="1704.6" font-size="18.3" class="b" text-anchor="end">-2.0</text>
<text x="805" y="1393.2" font-size="42" class="r" textLength="45" lengthAdjust="spacingAndGlyphs">(d)</text>
<g transform="rotate(-90 872 1530)">
<text x="806" y="1530" font-size="23.5" class="bi">E</text>
<text x="826" y="1530" font-size="23.5" class="b" textLength="112" lengthAdjust="spacingAndGlyphs">vs . SCE / V</text>
</g>
<text x="1072" y="1754" font-size="22" class="b" textLength="70.5" lengthAdjust="spacingAndGlyphs">Time / s</text>
<path d="M960.2 1403.2H1001.1" fill="none" stroke="#e878f0" stroke-width="1.7" stroke-linejoin="round" stroke-linecap="round"/>
<text x="1006" y="1408.9" font-size="17.5" class="b" textLength="59" lengthAdjust="spacingAndGlyphs">- 30 mA</text>
<path d="M1071 1403.2H1111.9" fill="none" stroke="#8434e0" stroke-width="1.7" stroke-linejoin="round" stroke-linecap="round"/>
<text x="1116" y="1408.9" font-size="17.5" class="b" textLength="59" lengthAdjust="spacingAndGlyphs">- 28 mA</text>
<path d="M1180.7 1403.2H1221.6" fill="none" stroke="#4464e8" stroke-width="1.7" stroke-linejoin="round" stroke-linecap="round"/>
<text x="1225.6" y="1408.9" font-size="17.5" class="b" textLength="59" lengthAdjust="spacingAndGlyphs">- 26 mA</text>
<path d="M960.2 1428.2H1001.1" fill="none" stroke="#44a4f0" stroke-width="1.7" stroke-linejoin="round" stroke-linecap="round"/>
<text x="1006" y="1433.9" font-size="17.5" class="b" textLength="59" lengthAdjust="spacingAndGlyphs">- 24 mA</text>
<path d="M1071 1428.2H1111.9" fill="none" stroke="#3ee4f2" stroke-width="1.7" stroke-linejoin="round" stroke-linecap="round"/>
<text x="1116" y="1433.9" font-size="17.5" class="b" textLength="59" lengthAdjust="spacingAndGlyphs">- 22 mA</text>
<path d="M1180.7 1428.2H1221.6" fill="none" stroke="#4ee24e" stroke-width="1.7" stroke-linejoin="round" stroke-linecap="round"/>
<text x="1225.6" y="1433.9" font-size="17.5" class="b" textLength="59" lengthAdjust="spacingAndGlyphs">- 20 mA</text>
<path d="M960.2 1452.4H1001.1" fill="none" stroke="#f2de5e" stroke-width="1.7" stroke-linejoin="round" stroke-linecap="round"/>
<text x="1006" y="1458.1" font-size="17.5" class="b" textLength="59" lengthAdjust="spacingAndGlyphs">- 16 mA</text>
<path d="M1071 1452.4H1111.9" fill="none" stroke="#f2a05e" stroke-width="1.7" stroke-linejoin="round" stroke-linecap="round"/>
<text x="1116" y="1458.1" font-size="17.5" class="b" textLength="59" lengthAdjust="spacingAndGlyphs">- 12 mA</text>
<path d="M1180.7 1452.4H1221.6" fill="none" stroke="#f2605e" stroke-width="1.7" stroke-linejoin="round" stroke-linecap="round"/>
<text x="1225.6" y="1458.1" font-size="17.5" class="b" textLength="50" lengthAdjust="spacingAndGlyphs">- 7 mA</text>
<path d="M960.2 1477H1001.1" fill="none" stroke="#f23c92" stroke-width="1.7" stroke-linejoin="round" stroke-linecap="round"/>
<text x="1006" y="1482.7" font-size="17.5" class="b" textLength="50" lengthAdjust="spacingAndGlyphs">- 3 mA</text>
<text x="1231.6" y="1491.3" font-size="21" class="b" textLength="55.5" lengthAdjust="spacingAndGlyphs">-3 mA</text>
<text x="1220.6" y="1617.7" font-size="21" class="b" textLength="65" lengthAdjust="spacingAndGlyphs">-30 mA</text>
<path d="M1268.9 1498.7L1271.9 1578" stroke="#f0403c" stroke-width="1.7" fill="none"/><path d="M1272.3 1589l-4.2 -14.5l8 -0.3z" fill="#f0403c"/></g>
</svg>
</body></html>
